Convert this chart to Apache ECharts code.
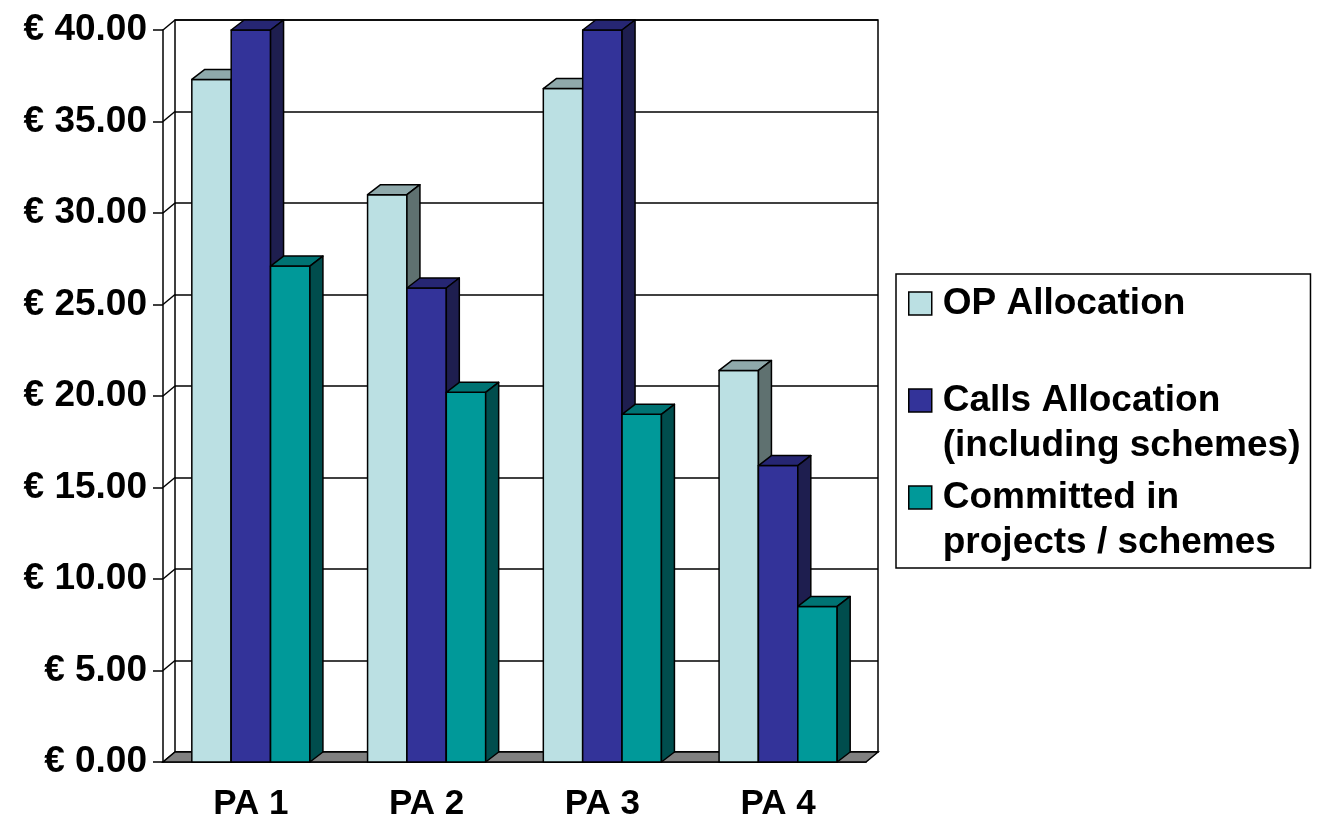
<!DOCTYPE html>
<html>
<head>
<meta charset="utf-8">
<script src="https://cdn.jsdelivr.net/npm/echarts@6/dist/echarts.min.js"></script>
<style>
  html, body { margin: 0; padding: 0; background: #fff; }
  #chart { width: 1320px; height: 833px; }
</style>
</head>
<body>
<div id="chart"></div>
<script>
// data
var categories = ['PA 1', 'PA 2', 'PA 3', 'PA 4'];
var opAllocation = [37.3, 31.0, 36.8, 21.4];
var callsAllocation = [40.0, 25.9, 40.0, 16.2];
var committed = [27.1, 20.2, 19.0, 8.5];
var seriesNames = ['OP Allocation', 'Calls Allocation (including schemes)', 'Committed in projects / schemes'];
var legendLabels = ['OP Allocation\n ', 'Calls Allocation\n(including schemes)', 'Committed in\nprojects / schemes'];
var yTicks = [0, 5, 10, 15, 20, 25, 30, 35, 40];

// front face, top face, side face
var colors = [
  ['#BBE0E3', '#8FA9AB', '#5F7170'],
  ['#333399', '#262673', '#1E1E4F'],
  ['#009999', '#007373', '#004D4D']
];

var DX = 13, DY = 10;      // depth of the bars
var WX = 12, WY = 10;      // depth of the walls
var font = 'Liberation Sans, Arial, sans-serif';

var myChart = echarts.init(document.getElementById('chart'));

function toPairs(arr) {
  return arr.map(function (v, i) { return [i, v]; });
}

function bar3d(idx) {
  var c = colors[idx];
  return function (params, api) {
    var top = api.coord([api.value(0), api.value(1)]);
    var base = api.coord([api.value(0), 0]);
    var band = api.size([1, 0])[0];
    var w = band * 0.224;
    var x0 = top[0] - 1.5 * w + idx * w;
    var x1 = x0 + w;
    var yT = top[1], yB = base[1];
    var edge = { stroke: '#000', lineWidth: 1.5, lineJoin: 'round' };
    return {
      type: 'group',
      children: [
        { type: 'polygon', shape: { points: [[x0, yB], [x1, yB], [x1, yT], [x0, yT]] },
          style: Object.assign({ fill: c[0] }, edge) },
        { type: 'polygon', shape: { points: [[x0, yT], [x1, yT], [x1 + DX, yT - DY], [x0 + DX, yT - DY]] },
          style: Object.assign({ fill: c[1] }, edge) },
        { type: 'polygon', shape: { points: [[x1, yB], [x1 + DX, yB - DY], [x1 + DX, yT - DY], [x1, yT]] },
          style: Object.assign({ fill: c[2] }, edge) }
      ]
    };
  };
}

var barData = [opAllocation, callsAllocation, committed];
var barSeries = barData.map(function (arr, i) {
  return {
    name: seriesNames[i],
    type: 'custom',
    xAxisIndex: 0,
    yAxisIndex: 0,
    itemStyle: { color: colors[i][0] },
    renderItem: bar3d(i),
    encode: { x: 0, y: 1 },
    data: toPairs(arr),
    z: 5
  };
});

myChart.setOption({
  animation: false,
  backgroundColor: '#fff',
  grid: [
    { left: 163, top: 30, width: 703, height: 732 },
    { left: 175, top: 20, width: 703, height: 732, show: true, borderColor: '#000', borderWidth: 1.5, backgroundColor: 'transparent' }
  ],
  xAxis: [
    {
      type: 'category',
      gridIndex: 0,
      data: categories,
      axisLine: { lineStyle: { color: '#000', width: 1.5 } },
      axisTick: { length: 10, lineStyle: { color: '#000', width: 1.5 } },
      axisLabel: { color: '#000', fontSize: 35, fontWeight: 'bold', fontFamily: font, margin: 25 }
    },
    { type: 'value', gridIndex: 1, show: false, min: 0, max: 1 }
  ],
  yAxis: [
    {
      type: 'value',
      gridIndex: 0,
      min: 0,
      max: 40,
      interval: 5,
      axisLine: { show: true, lineStyle: { color: '#000', width: 1.5 } },
      axisTick: { show: true, length: 10, lineStyle: { color: '#000', width: 1.5 } },
      splitLine: { show: false },
      axisLabel: {
        color: '#000', fontSize: 37, fontWeight: 'bold', fontFamily: font, margin: 16,
        formatter: function (v) { return '€ ' + v.toFixed(2); }
      }
    },
    {
      type: 'value',
      gridIndex: 1,
      min: 0,
      max: 40,
      interval: 5,
      axisLine: { show: false },
      axisTick: { show: false },
      axisLabel: { show: false },
      splitLine: { show: true, lineStyle: { color: '#000', width: 1.5 } }
    }
  ],
  legend: {
    orient: 'vertical',
    left: 896,
    top: 274,
    padding: [4, 10, 0, 12],
    borderColor: '#000',
    borderWidth: 1.5,
    itemWidth: 23,
    itemHeight: 68,
    itemGap: 1,
    selectedMode: false,
    textStyle: { color: '#000', fontSize: 37, fontWeight: 'bold', fontFamily: font, lineHeight: 45, padding: [6, 0, 0, 6] },
    formatter: function (name) { return legendLabels[seriesNames.indexOf(name)]; },
    data: seriesNames.map(function (n, i) {
      return {
        name: n,
        icon: 'path://M0,0L23,0L23,23L0,23Z M0,68',
        itemStyle: { color: colors[i][0], borderColor: '#000', borderWidth: 1.5 }
      };
    })
  },
  series: [
    {
      // floor of the 3D plot
      name: 'floor',
      type: 'custom',
      xAxisIndex: 0,
      yAxisIndex: 0,
      silent: true,
      renderItem: function (params, api) {
        var cs = params.coordSys;
        var yB = api.coord([0, 0])[1];
        return {
          type: 'polygon',
          shape: { points: [[cs.x, yB], [cs.x + cs.width, yB], [cs.x + cs.width + WX, yB - WY], [cs.x + WX, yB - WY]] },
          style: { fill: '#808080', stroke: '#000', lineWidth: 1.5 }
        };
      },
      data: [[0, 0]],
      z: 3
    },
    {
      // short lines on the left wall, from the axis back to the grid lines
      name: 'wall',
      type: 'custom',
      xAxisIndex: 0,
      yAxisIndex: 0,
      silent: true,
      renderItem: function (params, api) {
        var cs = params.coordSys;
        var y = api.coord([0, api.value(1)])[1];
        return {
          type: 'line',
          shape: { x1: cs.x, y1: y, x2: cs.x + WX, y2: y - WY },
          style: { stroke: '#000', lineWidth: 1.5 }
        };
      },
      encode: { x: 0, y: 1 },
      data: yTicks.map(function (v) { return [0, v]; }),
      z: 2
    }
  ].concat(barSeries)
});

window.addEventListener('resize', function () {
  myChart.resize();
});
</script>
</body>
</html>
